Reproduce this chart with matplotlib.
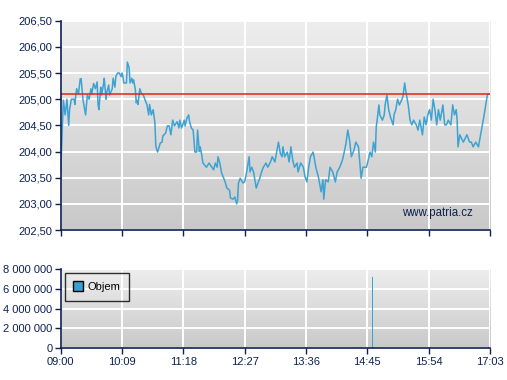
import numpy as np
import matplotlib
matplotlib.use("Agg")
import matplotlib.pyplot as plt
from matplotlib.lines import Line2D
from matplotlib.colors import LinearSegmentedColormap

# ---- data ----
price_t = [0, 3, 5, 7, 9, 10, 12, 15, 16, 17, 18, 20, 22, 23, 24, 25, 28, 30, 32, 34,
           35, 37, 39, 41, 42, 43, 45, 46, 48, 49, 51, 52, 54, 55, 58, 59, 61, 62, 64, 66,
           68, 69, 70, 71, 74, 75, 77, 78, 80, 81, 82, 84, 85, 86, 87, 89, 91, 93, 95, 97,
           99, 100, 102, 104, 106, 107, 109, 112, 114, 115, 118, 120, 122, 124, 126, 128, 131, 133, 134, 136,
           139, 140, 142, 144, 145, 147, 149, 151, 153, 154, 156, 157, 159, 160, 164, 167, 170, 172, 174, 176,
           177, 179, 181, 183, 185, 187, 190, 191, 194, 196, 198, 199, 200, 202, 205, 207, 209, 212, 213, 215,
           217, 220, 222, 224, 226, 228, 231, 233, 236, 238, 241, 244, 245, 247, 249, 250, 252, 255, 257, 259,
           261, 263, 266, 267, 270, 273, 275, 277, 279, 281, 284, 285, 287, 290, 293, 295, 296, 298, 301, 303,
           306, 309, 311, 314, 317, 319, 321, 323, 325, 327, 330, 332, 335, 337, 338, 340, 344, 346, 348, 350,
           352, 354, 355, 356, 358, 359, 362, 364, 365, 367, 369, 371, 374, 375, 377, 379, 381, 384, 385, 387,
           388, 390, 391, 393, 395, 397, 400, 402, 404, 406, 407, 409, 411, 413, 415, 417, 419, 421, 423, 425,
           427, 430, 432, 434, 436, 439, 441, 443, 445, 446, 447, 449, 453, 457, 460, 462, 464, 467, 470, 472,
           476, 480, 481, 483]
price_v = [203.60, 204.98, 204.70, 205.00, 204.50, 204.80, 205.00, 205.00, 204.90, 205.08, 205.20, 205.10, 205.39, 205.39, 205.20, 205.00, 204.70, 205.08, 205.00, 205.20,
           205.10, 205.30, 205.20, 205.33, 204.90, 204.80, 205.23, 205.08, 205.27, 205.40, 205.00, 205.14, 205.27, 205.08, 205.20, 205.40, 205.23, 205.43, 205.50, 205.50,
           205.43, 205.50, 205.43, 205.31, 205.31, 205.71, 205.60, 205.31, 205.40, 205.31, 205.37, 205.18, 204.93, 204.98, 204.90, 205.20, 205.10, 205.08, 204.98, 204.90,
           204.70, 204.90, 204.70, 204.80, 204.55, 204.10, 203.99, 204.16, 204.18, 204.30, 204.35, 204.49, 204.49, 204.32, 204.60, 204.49, 204.57, 204.45, 204.60, 204.45,
           204.60, 204.49, 204.64, 204.70, 204.57, 204.45, 204.41, 203.99, 203.99, 204.41, 204.00, 204.09, 203.90, 203.78, 203.70, 203.78, 203.70, 203.65, 203.78, 203.70,
           203.90, 203.78, 203.59, 203.51, 203.42, 203.30, 203.26, 203.11, 203.09, 203.13, 203.00, 203.07, 203.40, 203.49, 203.40, 203.42, 203.59, 203.90, 203.61, 203.70,
           203.61, 203.30, 203.40, 203.49, 203.61, 203.70, 203.78, 203.70, 203.80, 203.90, 203.80, 204.09, 204.18, 203.97, 203.90, 204.09, 203.90, 203.99, 203.80, 204.09,
           203.84, 203.70, 203.78, 203.61, 203.78, 203.70, 203.51, 203.42, 203.70, 203.90, 203.99, 203.90, 203.70, 203.51, 203.23, 203.46, 203.09, 203.46, 203.42, 203.70,
           203.61, 203.42, 203.61, 203.70, 203.84, 203.99, 204.16, 204.41, 204.22, 203.90, 204.03, 204.18, 204.09, 203.70, 203.49, 203.70, 203.70, 203.84, 203.99, 203.90,
           204.18, 203.99, 204.47, 204.60, 204.89, 204.70, 204.60, 204.70, 204.89, 205.08, 204.80, 204.66, 204.51, 204.70, 204.80, 205.00, 204.89, 205.00, 205.05, 205.31,
           205.18, 204.98, 204.89, 204.60, 204.51, 204.60, 204.51, 204.41, 204.60, 204.41, 204.32, 204.66, 204.51, 204.70, 204.80, 204.60, 205.00, 204.80, 204.51, 204.80,
           204.60, 204.89, 204.51, 204.51, 204.60, 204.51, 204.89, 204.70, 204.80, 204.60, 204.09, 204.32, 204.18, 204.32, 204.18, 204.18, 204.09, 204.18, 204.09, 204.28,
           204.66, 205.08, 205.10, 205.10]

prev_close = 205.10

vol_t = [67, 76, 351, 352, 406, 409, 429, 481, 483]
vol_v = [80000, 60000, 7200000, 60000, 70000, 70000, 60000, 90000, 90000]

xtick_pos = [0, 69, 138, 207, 276, 345, 414, 483]
xtick_labels = ["09:00", "10:09", "11:18", "12:27", "13:36", "14:45", "15:54", "17:03"]
ytick_pos = [202.5, 203.0, 203.5, 204.0, 204.5, 205.0, 205.5, 206.0, 206.5]
ytick_labels = ["202,50", "203,00", "203,50", "204,00", "204,50", "205,00", "205,50", "206,00", "206,50"]
vtick_pos = [0, 2000000, 4000000, 6000000, 8000000]
vtick_labels = ["0", "2 000 000", "4 000 000", "6 000 000", "8 000 000"]

# ---- style ----
navy = "#0c2152"
line_col = "#3ea2d2"
plt.rcParams['font.family'] = ['Liberation Sans', 'DejaVu Sans']
plt.rcParams['font.size'] = 8

fig = plt.figure(figsize=(5.07, 3.80), dpi=100)
ax = fig.add_axes([0.1197, 0.3947, 0.9665 - 0.1197, 0.9455 - 0.3947])
axv = fig.add_axes([0.1197, 0.0834, 0.9665 - 0.1197, 0.2921 - 0.0834])

grad = np.linspace(0, 1, 256).reshape(-1, 1)
cmap = LinearSegmentedColormap.from_list("bg", ["#eeeeee", "#c9c9c9"])

for a in (ax, axv):
    a.imshow(grad, extent=[0, 1, 0, 1], transform=a.transAxes, aspect='auto',
             cmap=cmap, zorder=0, interpolation='bilinear')
    a.set_xlim(0, 483)
    a.set_xticks(xtick_pos)
    a.grid(True, color="white", linewidth=1.4, zorder=1)
    a.set_axisbelow(False)
    for s in ("top", "right"):
        a.spines[s].set_visible(False)
    for s in ("left", "bottom"):
        a.spines[s].set_color(navy)
        a.spines[s].set_linewidth(1.2)
        a.spines[s].set_zorder(5)
    a.tick_params(axis='both', colors=navy, length=4, width=1.0, direction='out',
                  labelcolor=navy, labelsize=8, pad=2)

ax.set_ylim(202.5, 206.5)
ax.set_yticks(ytick_pos)
ax.set_yticklabels(ytick_labels)
ax.set_xticklabels([])
ax.plot(price_t, price_v, color=line_col, linewidth=1.1, zorder=3)
ax.axhline(prev_close, color="#e2231a", linewidth=1.1, zorder=4)
ax.text(464, 202.82, "www.patria.cz", color=navy, fontsize=8.3, ha='right', va='center', zorder=4)

axv.set_ylim(0, 8000000)
axv.set_yticks(vtick_pos)
axv.set_yticklabels(vtick_labels)
axv.set_xticklabels(xtick_labels)
axv.bar(vol_t, vol_v, width=1.0, color=line_col, zorder=3)
handle = Line2D([], [], marker='s', linestyle='none', markersize=7,
                markerfacecolor="#3a9ed0", markeredgecolor="black", markeredgewidth=1.0)
leg = axv.legend([handle], ["Objem"], loc='upper left', bbox_to_anchor=(0.01, 0.95),
                 fancybox=False, frameon=True, fontsize=8, handlelength=0.8,
                 handletextpad=0.4, borderpad=0.8, borderaxespad=0.0)
fr = leg.get_frame()
fr.set_facecolor('none')
fr.set_edgecolor('black')
fr.set_linewidth(1.0)
for t in leg.get_texts():
    t.set_color('black')

fig.savefig("out.png", dpi=100)
